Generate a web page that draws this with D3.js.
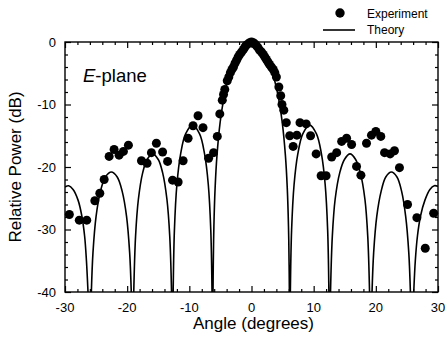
<!DOCTYPE html>
<html>
<head>
<meta charset="utf-8">
<script src="https://cdn.jsdelivr.net/npm/d3@7"></script>
<style>
  body { margin: 0; background: #fff; }
  svg { font-family: "Liberation Sans", Arial, sans-serif; }
</style>
</head>
<body>
<div id="chart"></div>
<script>
// measured points (angle in degrees, relative power in dB)
var expAngle = [-29.3, -27.7, -26.5, -25.2, -24.4, -23.7, -22.9, -22.1, -21.3, -20.6, -19.8,
	-17.7, -16.8, -16.1, -15.3, -14.3, -13.5, -12.7, -11.8, -11.0, -10.2, -9.4, -8.6, -7.8,
	-6.9, -6.1, -5.5, -5.1, -4.7, -4.5, -4.3, -3.9, -3.65, -3.4, -3.15, -2.9, -2.65, -2.4,
	-2.15, -1.9, -1.6, -1.3, -1.05, -0.85, -0.55, -0.3, 0, 0.3, 0.55, 0.8, 1.05, 1.3, 1.6,
	1.9, 2.15, 2.4, 2.65, 2.9, 3.2, 3.5, 3.75, 4.0, 4.4, 4.7, 4.9, 5.2, 5.6,
	6.15, 6.7, 7.3, 7.8, 8.8, 9.5, 10.4, 11.2, 12.0, 12.9, 13.7, 14.5, 15.3, 16.1, 16.9,
	17.6, 18.5, 19.3, 20.0, 20.8, 21.4, 22.3, 23.0, 23.8, 25.1, 26.6, 27.95, 29.3];
var expDb = [-27.6, -28.5, -28.5, -25.4, -24.2, -22.0, -18.3, -17.2, -18.1, -17.5, -16.5,
	-19.0, -19.4, -17.7, -16.2, -17.6, -19.1, -22.1, -22.4, -19.0, -15.4, -13.4, -11.8, -13.7,
	-18.6, -17.7, -15.1, -11.5, -9.3, -8.4, -7.6, -6.2, -5.6, -4.9, -4.4, -4.0, -3.4, -2.9,
	-2.4, -2.0, -1.6, -1.2, -0.8, -0.5, -0.3, -0.1, 0, -0.1, -0.3, -0.6, -0.9, -1.3, -1.6,
	-2.0, -2.4, -2.8, -3.2, -3.6, -4.0, -4.4, -4.9, -5.6, -7.2, -8.6, -10.0, -10.9, -12.9,
	-15.0, -16.7, -14.9, -12.9, -13.1, -15.0, -17.9, -21.4, -21.4, -18.4, -17.7, -15.9, -15.4, -16.4, -19.9,
	-21.3, -16.2, -14.9, -14.3, -15.1, -17.7, -17.9, -17.4, -20.1, -26.0, -28.1, -33.0, -27.4];

// theory curve, one lobe at a time (null = break between lobes)
var theoryAngle = [-30, -29.4, -28.7, -27.9, -27.3, -26.85, -26.55, -26.3, null,
	-25.76, -25.5, -25.0, -24.3, -23.5, -22.55, -21.6, -20.8, -20.1, -19.6, -19.34, null,
	-18.94, -18.65, -18.2, -17.5, -16.8, -15.9, -15.0, -14.3, -13.6, -13.15, -12.86, null,
	-12.6, -12.4, -12.0, -11.4, -10.6, -9.48, -8.35, -7.55, -6.95, -6.55, -6.35, null,
	-6.19, -6.15, -6.05, -5.85, -5.55, -5.05, -4.55, -4.05, -3.05, -2.05, -1.05, -0.05,
	0.95, 1.95, 2.95, 3.95, 4.45, 4.95, 5.45, 5.75, 5.95, 6.05, 6.09, null,
	6.25, 6.45, 6.85, 7.45, 8.25, 9.35, 10.45, 11.25, 11.85, 12.25, 12.45, null,
	12.71, 13.0, 13.45, 14.2, 14.95, 15.85, 16.75, 17.5, 18.25, 18.7, 18.99, null,
	19.39, 19.65, 20.15, 20.85, 21.6, 22.5, 23.4, 24.15, 24.8, 25.3, 25.56, null,
	26.1, 26.35, 26.7, 27.2, 27.9, 28.7, 29.4, 30];
var theoryDb = [-23.2, -23.0, -23.6, -25.3, -27.8, -31, -35, -40, null,
	-40, -33.7, -27.9, -23.9, -21.6, -20.8, -21.6, -23.9, -27.9, -33.7, -40, null,
	-40, -31.1, -25.2, -20.9, -18.8, -17.9, -18.8, -20.9, -25.2, -31.1, -40, null,
	-40, -30.1, -22.8, -17.9, -14.7, -13.3, -14.7, -17.9, -22.8, -30.1, -40, null,
	-40, -35.7, -29.5, -23.3, -18.1, -12.9, -9.55, -7.07, -3.65, -1.55, -0.38, 0,
	-0.38, -1.55, -3.65, -7.07, -9.55, -12.9, -18.1, -23.3, -29.5, -35.7, -40, null,
	-40, -30.1, -22.8, -17.9, -14.7, -13.3, -14.7, -17.9, -22.8, -30.1, -40, null,
	-40, -31.1, -25.2, -20.9, -18.8, -17.9, -18.8, -20.9, -25.2, -31.1, -40, null,
	-40, -33.7, -27.9, -23.9, -21.6, -20.8, -21.6, -23.9, -27.9, -33.7, -40, null,
	-40, -35, -31, -27.8, -25.3, -23.6, -23.0, -23.1];

var xTicks = [-30, -20, -10, 0, 10, 20, 30];
var yTicks = [0, -10, -20, -30, -40];

var width = 446, height = 338;
var margin = { left: 65, top: 42, right: 8, bottom: 46 };

var svg = d3.select('#chart').append('svg')
	.attr('width', width)
	.attr('height', height);

var x = d3.scaleLinear().domain([-30, 30]).range([margin.left, width - margin.right]);
var y = d3.scaleLinear().domain([-40, 0]).range([height - margin.bottom, margin.top]);

svg.append('clipPath').attr('id', 'plotclip')
	.append('rect')
	.attr('x', x(-30)).attr('y', y(0) - 6)
	.attr('width', x(30) - x(-30)).attr('height', y(-40) - y(0) + 6);

var minorX = d3.range(-30, 31, 2);
var minorY = d3.range(-40, 1, 2);

// axes with inward ticks on all four sides
function tickAxis(axis, scale, minor, major) {
	return function (g) {
		g.call(axis(scale).tickValues(minor).tickSize(-3).tickFormat(''));
		g.selectAll('.tick').filter(function (d) { return major.indexOf(d) >= 0; })
			.select('line').attr('x2', function () { return this.getAttribute('x2') == null ? null : this.getAttribute('x2') * 2; })
			.attr('y2', function () { return this.getAttribute('y2') == null ? null : this.getAttribute('y2') * 2; });
		g.select('.domain').remove();
		g.selectAll('line').attr('stroke', '#000').attr('stroke-width', 1.2);
	};
}

svg.append('g').attr('transform', 'translate(0,' + y(-40) + ')')
	.call(tickAxis(d3.axisBottom, x, minorX, xTicks));
svg.append('g').attr('transform', 'translate(0,' + y(0) + ')')
	.call(tickAxis(d3.axisTop, x, minorX, xTicks));
svg.append('g').attr('transform', 'translate(' + x(-30) + ',0)')
	.call(tickAxis(d3.axisLeft, y, minorY, yTicks));
svg.append('g').attr('transform', 'translate(' + x(30) + ',0)')
	.call(tickAxis(d3.axisRight, y, minorY, yTicks));

svg.append('rect')
	.attr('x', x(-30)).attr('y', y(0))
	.attr('width', x(30) - x(-30)).attr('height', y(-40) - y(0))
	.attr('fill', 'none').attr('stroke', '#000').attr('stroke-width', 1.4);

// tick labels
svg.append('g').selectAll('text').data(xTicks).join('text')
	.attr('x', function (d) { return x(d); })
	.attr('y', y(-40) + 20)
	.attr('text-anchor', 'middle')
	.style('font-size', '13px')
	.text(function (d) { return d; });

svg.append('g').selectAll('text').data(yTicks).join('text')
	.attr('x', x(-30) - 9)
	.attr('y', function (d) { return y(d) + 4.5; })
	.attr('text-anchor', 'end')
	.style('font-size', '13px')
	.text(function (d) { return d; });

// axis titles
svg.append('text')
	.attr('x', (x(-30) + x(30)) / 2 + 2)
	.attr('y', 329)
	.attr('text-anchor', 'middle')
	.style('font-size', '17px')
	.text('Angle (degrees)');

svg.append('text')
	.attr('transform', 'translate(21,' + ((y(0) + y(-40)) / 2) + ') rotate(-90)')
	.attr('text-anchor', 'middle')
	.style('font-size', '17px')
	.text('Relative Power (dB)');

// plane label
var lbl = svg.append('text')
	.attr('x', 83)
	.attr('y', 82)
	.style('font-size', '18.5px');
lbl.append('tspan').style('font-style', 'italic').text('E');
lbl.append('tspan').text('-plane');

// theory line
var theoryPts = theoryAngle.map(function (a, i) { return [a, theoryDb[i]]; });
var line = d3.line()
	.defined(function (d) { return d[0] != null; })
	.x(function (d) { return x(d[0]); })
	.y(function (d) { return y(d[1]); })
	.curve(d3.curveCatmullRom);

svg.append('path')
	.datum(theoryPts)
	.attr('clip-path', 'url(#plotclip)')
	.attr('d', line)
	.attr('fill', 'none')
	.attr('stroke', '#000')
	.attr('stroke-width', 1.6);

// experiment dots
svg.append('g').selectAll('circle').data(expAngle).join('circle')
	.attr('cx', function (d) { return x(d); })
	.attr('cy', function (d, i) { return y(expDb[i]); })
	.attr('r', 4.5)
	.attr('fill', '#000');

// legend
var leg = svg.append('g');
leg.append('circle').attr('cx', 340).attr('cy', 13).attr('r', 4.7).attr('fill', '#000');
leg.append('text').attr('x', 367).attr('y', 17.5).style('font-size', '12px').text('Experiment');
leg.append('line').attr('x1', 323).attr('x2', 355).attr('y1', 30).attr('y2', 30)
	.attr('stroke', '#000').attr('stroke-width', 1.6);
leg.append('text').attr('x', 367).attr('y', 34).style('font-size', '12px').text('Theory');
</script>
</body>
</html>
